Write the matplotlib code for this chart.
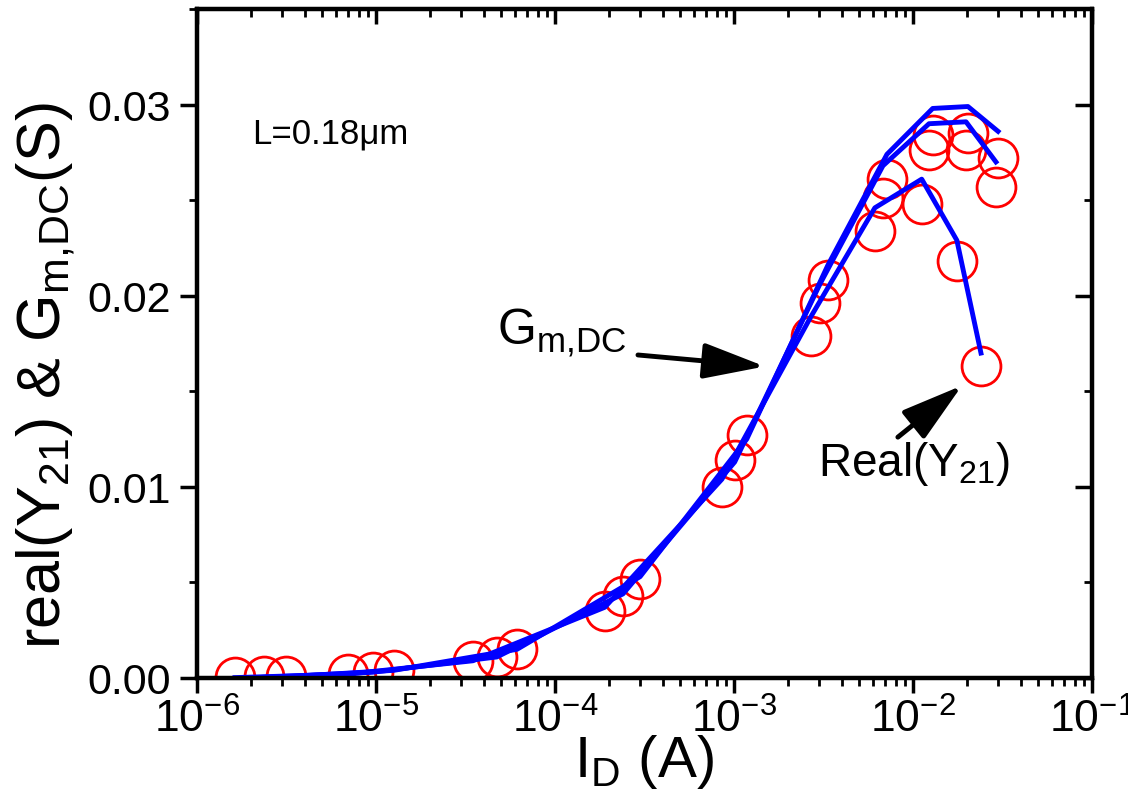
import matplotlib
matplotlib.use('Agg')
import matplotlib.pyplot as plt
from matplotlib.ticker import MultipleLocator, LogLocator, NullFormatter, FormatStrFormatter

plt.rcParams['font.family'] = ['Liberation Sans', 'DejaVu Sans']
plt.rcParams['mathtext.fontset'] = 'custom'
plt.rcParams['mathtext.rm'] = 'Liberation Sans'
plt.rcParams['mathtext.it'] = 'Liberation Sans:italic'
plt.rcParams['mathtext.bf'] = 'Liberation Sans:bold'
plt.rcParams['mathtext.sf'] = 'Liberation Sans'

# corriente de drenador (A) para las tres polarizaciones
id_a = [3.14e-6, 1.26e-5, 6.14e-5, 2.99e-4, 1.18e-3, 3.35e-3, 7.16e-3, 1.29e-2, 2.03e-2, 2.99e-2]
id_b = [2.37e-6, 9.62e-6, 4.74e-5, 2.40e-4, 1.01e-3, 3.02e-3, 6.80e-3, 1.23e-2, 1.98e-2, 2.91e-2]
id_c = [1.63e-6, 6.98e-6, 3.48e-5, 1.90e-4, 8.57e-4, 2.69e-3, 6.13e-3, 1.12e-2, 1.76e-2, 2.40e-2]

# real(Y21) medido (S)
y21_a = [0.00011, 0.0004, 0.0015, 0.0052, 0.0127, 0.0208, 0.0261, 0.0284, 0.0285, 0.0272]
y21_b = [0.00008, 0.0003, 0.0011, 0.0043, 0.0114, 0.0196, 0.0251, 0.0276, 0.0276, 0.0257]
y21_c = [0.00005, 0.0002, 0.0009, 0.0035, 0.0100, 0.0179, 0.0234, 0.0248, 0.0218, 0.0163]

# Gm,DC (S)
gm_a = [0.00006, 0.0004, 0.0015, 0.0053, 0.0125, 0.0216, 0.0274, 0.0298, 0.0299, 0.0286]
gm_b = [0.00004, 0.0003, 0.0011, 0.0044, 0.0113, 0.0206, 0.0268, 0.0290, 0.0291, 0.0270]
gm_c = [0.00002, 0.0002, 0.0009, 0.0037, 0.0104, 0.0189, 0.0246, 0.0261, 0.0229, 0.0170]

fig = plt.figure(figsize=(11.28, 8.04), dpi=100)
ax = fig.add_axes([0.1746, 0.1555, 0.7934, 0.832])

# circulos primero, lineas encima
for xs, ys in [(id_a, y21_a), (id_b, y21_b), (id_c, y21_c)]:
    ax.plot(xs, ys, 'o', mfc='none', mec='#ff0000', ms=28, mew=2, ls='none', zorder=2)
for xs, gs in [(id_a, gm_a), (id_b, gm_b), (id_c, gm_c)]:
    ax.plot(xs, gs, color='#0000ff', lw=3.5, zorder=3)

ax.set_xscale('log')
ax.set_xlim(1e-6, 1e-1)
ax.set_ylim(0, 0.035)
ax.yaxis.set_major_locator(MultipleLocator(0.01))
ax.yaxis.set_minor_locator(MultipleLocator(0.005))
ax.yaxis.set_major_formatter(FormatStrFormatter('%.2f'))
ax.xaxis.set_major_locator(LogLocator(base=10))
ax.xaxis.set_minor_locator(LogLocator(base=10, subs=range(2, 10)))
ax.xaxis.set_minor_formatter(NullFormatter())

ax.tick_params(axis='x', which='major', direction='out', length=11, width=2.5, labelsize=32, pad=3)
ax.tick_params(axis='x', which='minor', direction='out', length=6, width=2)
ax.tick_params(axis='y', which='major', direction='out', length=12, width=2.5, labelsize=31, pad=7)
ax.tick_params(axis='y', which='minor', direction='out', length=6, width=2)

# ejes de arriba y derecha con marcas hacia adentro
axt = ax.twiny()
axt.set_xscale('log')
axt.set_xlim(1e-6, 1e-1)
axt.xaxis.set_major_locator(LogLocator(base=10))
axt.xaxis.set_minor_locator(LogLocator(base=10, subs=range(2, 10)))
axt.tick_params(axis='x', which='major', direction='in', length=11, width=2.5, labeltop=False)
axt.tick_params(axis='x', which='minor', direction='in', length=6, width=2)

axr = ax.twinx()
axr.set_ylim(0, 0.035)
axr.yaxis.set_major_locator(MultipleLocator(0.01))
axr.yaxis.set_minor_locator(MultipleLocator(0.005))
axr.tick_params(axis='y', which='major', direction='in', length=12, width=2.5, labelright=False)
axr.tick_params(axis='y', which='minor', direction='in', length=6, width=2)

for a in (ax, axt, axr):
    for s in a.spines.values():
        s.set_linewidth(3)

ax.set_xlabel(r'I$_{\mathrm{D}}$ (A)', fontsize=42, labelpad=-6)
ax.set_ylabel(r'real(Y$_{21}$) & G$_{\mathrm{m{,}DC}}$(S)', fontsize=44)
ax.yaxis.set_label_coords(-0.133, 0.454)

ax.text(2.03e-6, 0.0280, 'L=0.18μm', fontsize=25, ha='left', va='baseline')
ax.text(4.74e-5, 0.0175, r'G$_{\mathrm{m{,}DC}}$', fontsize=36, ha='left', va='baseline')
ax.text(2.94e-3, 0.0106, r'Real(Y$_{21}$)', fontsize=33, ha='left', va='baseline')

arrow = dict(arrowstyle='-|>,head_length=1.9,head_width=0.55', lw=3.5, color='black',
             mutation_scale=20, shrinkA=0, shrinkB=0)
ax.annotate('', xy=(1.49e-3, 0.0163), xytext=(2.91e-4, 0.0169), arrowprops=arrow)
ax.annotate('', xy=(1.88e-2, 0.0153), xytext=(8.24e-3, 0.0126), arrowprops=arrow)

fig.savefig('out.png', dpi=100)
